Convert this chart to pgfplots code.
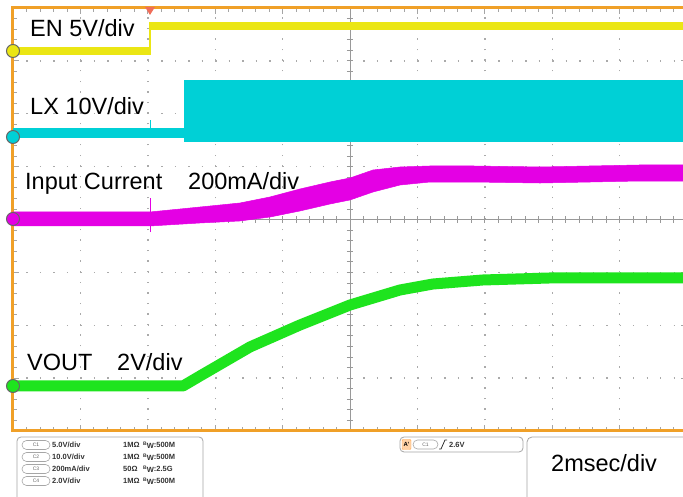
\documentclass[border=0pt]{standalone}
\usepackage{pgfplots}
\pgfplotsset{compat=1.18}
\usepackage{fontspec}
\setmainfont{Liberation Sans}

\definecolor{scopeorange}{RGB}{240,160,40}
\definecolor{chyellow}{RGB}{235,230,20}
\definecolor{chcyan}{RGB}{0,208,214}
\definecolor{chmagenta}{RGB}{228,0,228}
\definecolor{chgreen}{RGB}{30,228,30}
\definecolor{gridgray}{RGB}{165,165,165}
\definecolor{dotgray}{RGB}{170,170,170}
\definecolor{trigred}{RGB}{240,110,90}

% small bold text of the info panel
\newcommand\sm{\bfseries\fontsize{7.5}{8}\selectfont}
% channel pill: x, y(centre), width, text
\newcommand\pill[4]{%
  \draw[gray!70, line width=0.6pt, rounded corners=4.5pt] (#1,#2-4.5) rectangle ++(#3,9);
  \node[font=\fontsize{5}{5}\selectfont, text=gray!80!black] at (#1+#3/2,#2) {#4};}

\begin{document}
\begin{tikzpicture}
\fill[white] (0,0) rectangle (683pt,497pt);
\useasboundingbox (0,0) rectangle (683pt,497pt);

\begin{axis}[
  at={(13pt,66pt)}, anchor=south west,
  width=674pt, height=423pt, scale only axis,
  xmin=0, xmax=10, ymin=-4, ymax=4,
  xtick={0,...,10}, ytick={-4,...,4},
  minor x tick num=4, minor y tick num=4,
  xticklabels={}, yticklabels={},
  tick align=inside,
  major tick length=6pt, minor tick length=4pt,
  tick style={gridgray, line width=0.8pt},
  axis line style={draw=none},
  clip=false,
]
% dotted graticule
\pgfplotsinvokeforeach{1,2,3,4,6,7,8,9}{\draw[dotgray, line width=1.4pt, dash pattern=on 1.4pt off 9.175pt] (#1,-4) -- (#1,4);}
\pgfplotsinvokeforeach{-3,-2,-1,1,2,3}{\draw[dotgray, line width=1.4pt, dash pattern=on 1.4pt off 12.08pt] (0,#1) -- (10,#1);}

% centre crosshair
\draw[gray!80, line width=1pt] (5,-4) -- (5,4);
\draw[gray!80, line width=1pt] (0,0) -- (10,0);
\pgfplotsinvokeforeach{1,...,49}{\draw[gray!80, line width=0.8pt] ({#1*0.2},-0.057) -- ({#1*0.2},0.057);}
\pgfplotsinvokeforeach{-19,...,19}{\draw[gray!80, line width=0.8pt] (4.955,{#1*0.2}) -- (5.045,{#1*0.2});}

% frame
\draw[scopeorange, line width=3pt] (10.3,4) -- (0,4) -- (0,-4) -- (10.3,-4);

% C1: EN
\addplot[chyellow, line width=8pt] coordinates {(0,3.187) (2.033,3.187)};
\addplot[chyellow, line width=1.5pt] coordinates {(2.033,3.11) (2.033,3.74)};
\addplot[chyellow, line width=8pt] coordinates {(2.033,3.660) (10,3.660)};

% C2: LX
\addplot[chcyan, line width=10pt] coordinates {(0,1.636) (2.537,1.636)};
\addplot[chcyan, line width=1pt] coordinates {(2.033,1.55) (2.033,1.88)};
\addplot[fill=chcyan, draw=none] coordinates {(2.537,1.466) (2.537,2.638) (10,2.638) (10,1.466)} -- cycle;

% C3: input current (band: upper edge, then lower edge back)
\addplot[fill=chmagenta, draw=chmagenta, line width=0.5pt] coordinates {
  (0,0.142) (2.033,0.142) (2.774,0.236) (3.368,0.312) (3.813,0.426) (4.258,0.577)
  (4.703,0.709) (5.000,0.785) (5.341,0.936) (5.742,0.993) (6.187,1.012) (6.825,1.012)
  (7.819,0.993) (9.303,1.031) (10,1.031)
  (10,0.728) (9.303,0.728) (7.819,0.690) (6.825,0.709) (6.187,0.709) (5.742,0.652)
  (5.341,0.520) (5.000,0.369) (4.703,0.293) (4.258,0.161) (3.813,0.047) (3.368,-0.028)
  (2.774,-0.066) (2.033,-0.123) (0,-0.123)
} -- cycle;
\addplot[chmagenta, line width=1pt] coordinates {(2.033,-0.24) (2.033,0.40)};

% C4: VOUT
\addplot[chgreen, line width=11pt, line join=round] coordinates {
  (0,-3.149) (2.522,-3.149) (2.774,-2.960) (3.516,-2.411) (4.258,-1.995)
  (5,-1.617) (5.742,-1.333) (6.231,-1.220) (6.973,-1.144) (7.967,-1.106) (10,-1.106)
};

% channel markers
\addplot[only marks, mark=*, mark size=6.5pt, mark options={fill=chyellow, draw=black!60, line width=1pt}] coordinates {(0,3.187)};
\addplot[only marks, mark=*, mark size=6.5pt, mark options={fill=chcyan, draw=black!60, line width=1pt}] coordinates {(0,1.560)};
\addplot[only marks, mark=*, mark size=6.5pt, mark options={fill=chmagenta, draw=black!60, line width=1pt}] coordinates {(0,0.01)};
\addplot[only marks, mark=*, mark size=6.5pt, mark options={fill=chgreen, draw=black!60, line width=1pt}] coordinates {(0,-3.149)};
\node[font=\fontsize{5}{5}\selectfont, text=black!70] at (0,3.187) {1};
\node[font=\fontsize{5}{5}\selectfont, text=black!70] at (0,1.560) {2};
\node[font=\fontsize{5}{5}\selectfont, text=black!70] at (0,0.01) {3};
\node[font=\fontsize{5}{5}\selectfont, text=black!70] at (0,-3.149) {4};
\end{axis}

% everything below in image pixels, y downwards
\begin{scope}[x=1pt, y=-1pt, yshift=497pt]
\fill[trigred] (145,7) -- (155,7) -- (150,15) -- cycle;

\begin{scope}[every node/.style={anchor=base west, inner sep=0pt, font=\fontsize{23.5}{24}\selectfont}]
\node at (30,37) {EN 5V/div};
\node at (30,115) {LX 10V/div};
\node at (25,190) {Input Current};
\node at (188,190) {200mA/div};
\node at (27,371) {VOUT};
\node at (117,371) {2V/div};
\end{scope}

% channel settings box
\draw[gray!70, line width=0.8pt, rounded corners=4pt] (17,437) rectangle (203,510);
\pill{22}{445}{28}{C1}
\pill{22}{457}{28}{C2}
\pill{22}{469}{28}{C3}
\pill{22}{481}{28}{C4}
\begin{scope}[every node/.style={anchor=west, inner sep=0pt, font=\sm, text=black!80}]
\node at (52,445) {5.0V/div};
\node at (52,457) {10.0V/div};
\node at (52,469) {200mA/div};
\node at (52,481) {2.0V/div};
\node at (123,445) {1MΩ};
\node at (123,457) {1MΩ};
\node at (123,469) {50Ω};
\node at (123,481) {1MΩ};
\node at (143,445) {\raisebox{1.5pt}{\fontsize{5}{5}\selectfont B}\raisebox{-1pt}{W}:500M};
\node at (143,457) {\raisebox{1.5pt}{\fontsize{5}{5}\selectfont B}\raisebox{-1pt}{W}:500M};
\node at (143,469) {\raisebox{1.5pt}{\fontsize{5}{5}\selectfont B}\raisebox{-1pt}{W}:2.5G};
\node at (143,481) {\raisebox{1.5pt}{\fontsize{5}{5}\selectfont B}\raisebox{-1pt}{W}:500M};
\end{scope}

% trigger box
\draw[gray!70, line width=0.8pt, rounded corners=4pt] (400,437) rectangle (523,452);
\draw[fill=orange!35, draw=orange!70, rounded corners=1pt] (402,439.5) rectangle (411,449.5);
\node[font=\bfseries\fontsize{6}{6}\selectfont] at (406.5,444.5) {A'};
\pill{413}{444.5}{25}{C1}
\draw[black!80, line width=0.8pt] (439,449) -- (441,449) -- (445,440) -- (447,440);
\node[anchor=west, inner sep=0pt, font=\sm, text=black!80] at (449,444.5) {2.6V};

% timebase box
\draw[gray!70, line width=0.8pt, rounded corners=5pt] (527,437) rectangle (700,510);
\node[anchor=base west, inner sep=0pt, font=\fontsize{23.5}{24}\selectfont] at (551,472) {2msec/div};
\end{scope}
\end{tikzpicture}
\end{document}
